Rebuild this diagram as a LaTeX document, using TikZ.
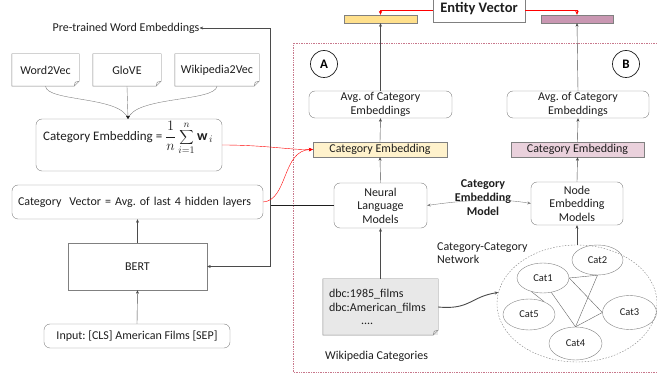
\documentclass[tikz,border=0pt]{standalone}
\usepackage{fontspec}
\setmainfont{Carlito}
\usetikzlibrary{arrows.meta,shapes.geometric,calc}
\definecolor{edge}{RGB}{128,128,128}
\definecolor{ink}{RGB}{30,30,30}
\definecolor{barY}{RGB}{255,224,140}
\definecolor{barP}{RGB}{201,151,178}
\definecolor{fillY}{RGB}{255,242,204}
\definecolor{fillP}{RGB}{234,209,220}
\definecolor{frameR}{RGB}{200,120,140}
\newcommand\dogear[1]{%
  \draw[edge] (#1.north west) -- (#1.north east) -- ($(#1.south east)+(0,-5)$) -- ($(#1.south east)+(-5,0)$) -- (#1.south west) -- cycle;
  \draw[edge] ($(#1.south east)+(-5,0)$) -- ($(#1.south east)+(-4,-4)$) -- ($(#1.south east)+(0,-5)$);}
\begin{document}
\frenchspacing
\begin{tikzpicture}[x=1pt,y=-1pt,
  txt/.style={font=\fontsize{12}{13.5}\selectfont, text=ink, inner sep=0pt},
  rbox/.style={txt, draw=edge, rounded corners=6pt, align=center},
  sbox/.style={txt, draw=edge, align=center},
  notebox/.style={txt, align=center},
  catell/.style={ellipse, draw=edge, font=\fontsize{10.5}{12}\selectfont, text=ink, inner sep=0pt},
  arr/.style={draw=ink!80, -{Stealth[length=3.5pt,width=3pt]}},
  redarr/.style={draw=red, -{Stealth[length=4pt,width=3.5pt]}},
  net/.style={draw=edge!80!black},
]
\useasboundingbox (0,0) rectangle (657,374);

% dotted frame
\draw[frameR, densely dotted, line width=0.7pt] (660,43) -- (293,43) -- (293,372) -- (660,372);

% left column
\node[txt] (pre) at (126,28) {Pre-trained Word Embeddings};
\node[notebox, minimum width=67, minimum height=32] (w2v) at (45.5,70) {Word2Vec};
\node[notebox, minimum width=68, minimum height=32] (glove) at (127,70) {GloVE};
\node[notebox, minimum width=84, minimum height=32] (wiki) at (217,70) {Wikipedia2Vec};
\dogear{w2v}\dogear{glove}\dogear{wiki}

\node[rbox, minimum width=186, minimum height=52] (catemb) at (129,145) {};
\node[txt, font=\fontsize{13}{14}\selectfont, anchor=west] (formula) at (43,138) {Category Embedding = {\fontsize{14}{15}\selectfont$\displaystyle\frac{1}{n}\sum_{i=1}^{n}\mathbf{w}_{\,i}$}};

\node[rbox, minimum width=251, minimum height=34, text width=239, align=left, inner xsep=6pt] (catvec) at (137.5,202) {Category\ \ Vector = Avg. of last 4 hidden layers};
\node[sbox, minimum width=139, minimum height=47] (bert) at (137.5,266.5) {BERT};
\node[rbox, minimum width=186, minimum height=24] (input) at (137,336) {Input: [CLS] American Films [SEP]};

% curves into category embedding
\coordinate (cin) at (128,119);
\draw[edge] (w2v.south) .. controls (47,102) and (122,96) .. (cin);
\draw[edge] (wiki.south) .. controls (215,102) and (134,96) .. (cin);
\draw[arr, draw=edge] (glove.south) -- (cin);
\fill[ink] (cin) ++(-2,-3) -- ++(4,0) -- (cin) -- cycle;

\draw[arr] (input.north) -- (bert.south);
\draw[arr] (bert.north) -- (catvec.south);

% top entity vector
\node[sbox, font=\bfseries\fontsize{14.5}{16}\selectfont, minimum width=92, minimum height=27] (entity) at (479,8.5) {Entity Vector};
\node[draw=edge, fill=barY, minimum width=73, minimum height=8, inner sep=0pt] (barA) at (380.5,19) {};
\node[draw=edge, fill=barP, minimum width=72, minimum height=8, inner sep=0pt] (barB) at (577,19) {};
\draw[redarr] ([yshift=-1.5]entity.west) -| (barA.north);
\draw[redarr] ([yshift=-1.5]entity.east) -| (barB.north);

\node[circle, draw=ink, line width=0.7pt, minimum size=27, inner sep=0pt, font=\bfseries\fontsize{13}{14}\selectfont] (circA) at (324,64) {A};
\node[circle, draw=ink, line width=0.7pt, minimum size=27, inner sep=0pt, font=\bfseries\fontsize{13}{14}\selectfont] (circB) at (626,64) {B};

\node[rbox, minimum width=143, minimum height=27] (avgA) at (380.5,104.5) {Avg. of Category\\Embeddings};
\node[rbox, minimum width=142, minimum height=27] (avgB) at (578,104.5) {Avg. of Category\\Embeddings};
\node[sbox, fill=fillY, draw=edge, minimum width=134, minimum height=15] (ceA) at (380,149.5) {Category Embedding};
\node[sbox, fill=fillP, draw=edge, minimum width=133, minimum height=15] (ceB) at (577.5,149.5) {Category Embedding};
\node[rbox, minimum width=93, minimum height=45] (nlm) at (380.5,205.5) {Neural\\Language\\Models};
\node[rbox, minimum width=92, minimum height=43] (nem) at (577,203.5) {Node\\Embedding\\Models};
\node[txt, font=\bfseries\fontsize{12}{14}\selectfont, align=center] (cem) at (483,198) {Category\\Embedding\\Model};

\draw[arr] (avgA.north) -- (barA.south);
\draw[arr] (avgB.north) -- (barB.south);
\draw[arr] (ceA.north) -- (avgA.south);
\draw[arr] (ceB.north) -- (avgB.south);
\draw[arr] (nlm.north) -- (ceA.south);
\draw[arr] (nem.north) -- (ceB.south);
\draw[edge, {Stealth[length=3.5pt,width=3pt]}-{Stealth[length=3.5pt,width=3pt]}] (nlm.east) .. controls (465,200) and (500,198) .. (nem.west);

% network
\node[txt, anchor=west, align=left] (ccn) at (437,253) {Category-Category\\Network};
\node[ellipse, draw=edge, dashed, dash pattern=on 1.5pt off 1.5pt, minimum width=160, minimum height=117, inner sep=0pt] (big) at (577,303.5) {};
\draw[arr] (big.north) -- (nem.south);
\node[catell, minimum width=52, minimum height=30] (cat1) at (543,278) {Cat1};
\node[catell, minimum width=51, minimum height=30] (cat2) at (597.5,260) {Cat2};
\node[catell, minimum width=54, minimum height=34] (cat3) at (629.5,312.5) {Cat3};
\node[catell, minimum width=53, minimum height=33] (cat4) at (575.5,343.5) {Cat4};
\node[catell, minimum width=52, minimum height=31] (cat5) at (529,314.5) {Cat5};
\draw[net] (cat1.east) -- (cat2.south);
\draw[net] (cat1.east) -- (cat3.west);
\draw[net] (cat1.-60) -- (cat4.north);
\draw[net] (cat2.south) -- (cat4.north);
\draw[net] (cat3.west) -- (cat4.north);
\draw[net] (cat1.-130) -- (cat5.40);

% wikipedia categories
\node[txt, fill=gray!18, minimum width=115, minimum height=56, align=left, text width=103, inner xsep=6pt] (doc) at (380.5,307) {dbc:1985\_films\\dbc:American\_films\\\hspace*{32pt}....};
\dogear{doc}
\node[txt, anchor=west] (wcat) at (325,356) {Wikipedia Categories};
\draw[arr] (doc.north) -- (nlm.south);
\draw[arr, line width=0.9pt] (doc.east) .. controls (470,310) and (470,297) .. (big.172);

% bus lines
\coordinate (bus) at (270,205.5);
\draw[ink, line width=0.9pt] (nlm.west) -- (bus);
\draw[arr] (bus) |- (pre.east);
\draw[arr] (bus) |- (bert.east);

% red lines
\draw[redarr] (catemb.east) .. controls (265,145) and (290,150) .. (ceA.west);
\draw[redarr] (catvec.east) .. controls (288,200) and (282,150) .. (ceA.west);
\end{tikzpicture}
\end{document}
